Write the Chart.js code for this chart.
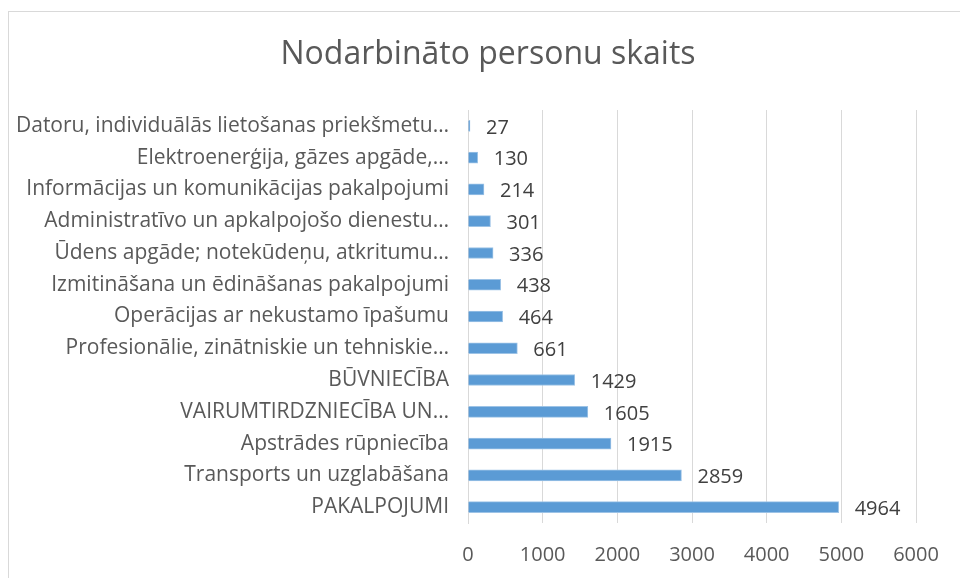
<!DOCTYPE html>
<html>
<head>
<meta charset="utf-8">
<script src="https://cdn.jsdelivr.net/npm/chart.js@4.4.1/dist/chart.umd.min.js"></script>
<style>
  html,body{margin:0;padding:0;width:960px;height:578px;overflow:hidden;background:#fff;}
  #frame{position:absolute;left:8px;top:11px;width:1000px;height:700px;border:1px solid #d9d9d9;box-sizing:border-box;}
  #wrap{position:absolute;left:0;top:0;width:960px;height:578px;}
</style>
</head>
<body>
<div id="frame"></div>
<div id="wrap"><canvas id="c" width="960" height="578"></canvas></div>
<script>
const chartTitle = "Nodarbināto personu skaits";
const categories = [
  "Datoru, individuālās lietošanas priekšmetu…",
  "Elektroenerģija, gāzes apgāde,…",
  "Informācijas un komunikācijas pakalpojumi",
  "Administratīvo un apkalpojošo dienestu…",
  "Ūdens apgāde; notekūdeņu, atkritumu…",
  "Izmitināšana un ēdināšanas pakalpojumi",
  "Operācijas ar nekustamo īpašumu",
  "Profesionālie, zinātniskie un tehniskie…",
  "BŪVNIECĪBA",
  "VAIRUMTIRDZNIECĪBA UN…",
  "Apstrādes rūpniecība",
  "Transports un uzglabāšana",
  "PAKALPOJUMI"
];
const employees = [27, 130, 214, 301, 336, 438, 464, 661, 1429, 1605, 1915, 2859, 4964];
const xTicks = [0, 1000, 2000, 3000, 4000, 5000, 6000];

const FONT = "'Open Sans', 'Noto Sans', sans-serif";

const valueLabels = {
  id: 'valueLabels',
  afterDatasetsDraw(chart) {
    const ctx = chart.ctx;
    const meta = chart.getDatasetMeta(0);
    ctx.save();
    ctx.font = "20px " + FONT;
    ctx.fillStyle = '#404040';
    ctx.textAlign = 'left';
    ctx.textBaseline = 'middle';
    meta.data.forEach((bar, i) => {
      ctx.fillText(String(employees[i]), bar.x + 16, bar.y + 2);
    });
    ctx.restore();
  }
};

const titleText = {
  id: 'titleText',
  afterDraw(chart) {
    const ctx = chart.ctx;
    ctx.save();
    ctx.font = "32px " + FONT;
    ctx.fillStyle = '#595959';
    ctx.textAlign = 'center';
    ctx.textBaseline = 'middle';
    ctx.fillText(chartTitle, 488, 55);
    ctx.restore();
  }
};

new Chart(document.getElementById('c'), {
  type: 'bar',
  data: {
    labels: categories,
    datasets: [{
      data: employees,
      backgroundColor: '#5b9bd5',
      borderColor: '#9dc3e6',
      borderWidth: 1,
      barThickness: 11,
      borderSkipped: 'start'
    }]
  },
  options: {
    indexAxis: 'y',
    responsive: false,
    animation: false,
    devicePixelRatio: 1,
    layout: { padding: { left: 0, right: 44, top: 110, bottom: 11 } },
    plugins: {
      legend: { display: false },
      tooltip: { enabled: false },
      title: { display: false }
    },
    scales: {
      x: {
        min: 0, max: 6000,
        afterBuildTicks(scale) { scale.ticks = xTicks.map(v => ({ value: v })); },
        afterFit(scale) { scale.height = 44; },
        grid: { color: '#d9d9d9', lineWidth: 1, drawTicks: false },
        border: { display: false },
        ticks: { color: '#595959', font: { family: FONT, size: 20 }, padding: 20, maxRotation: 0,
                 callback: (v) => String(v) }
      },
      y: {
        afterFit(scale) { scale.width = 468; },
        grid: { display: false, drawTicks: false },
        border: { display: true, color: '#d9d9d9', width: 1 },
        ticks: { color: '#595959', font: { family: FONT, size: 21 }, padding: 19, autoSkip: false }
      }
    }
  },
  plugins: [valueLabels, titleText]
});
</script>
</body>
</html>
